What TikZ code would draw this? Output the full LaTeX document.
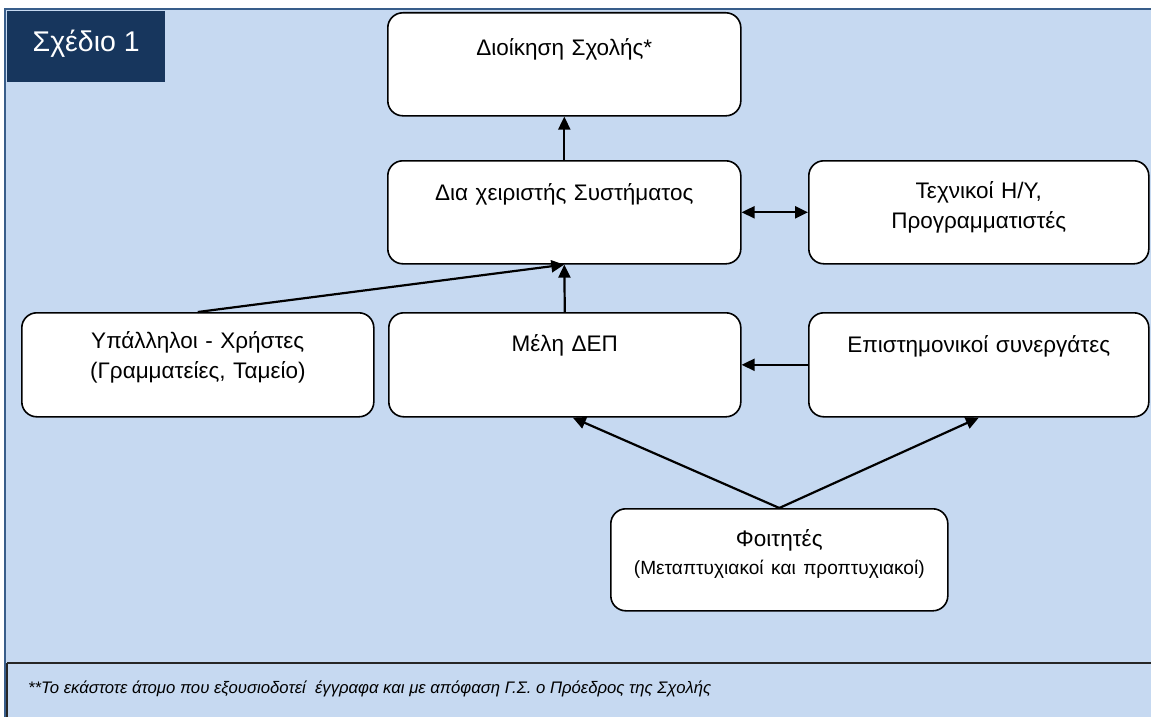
\documentclass[tikz,border=0pt]{standalone}
\usepackage{fontspec}
\setmainfont{Liberation Sans}
\usetikzlibrary{arrows.meta}
\definecolor{bgblue}{HTML}{C6D9F1}
\definecolor{navy}{HTML}{17365D}
\definecolor{framec}{HTML}{385D8A}
\tikzset{
  box/.style={draw=black, line width=1.6pt, rounded corners=15pt, fill=white,
    inner xsep=0pt, inner ysep=0pt, align=center, anchor=north west,
    font=\fontsize{22.5}{30}\selectfont},
  conn/.style={line width=2.2pt, -{Triangle[length=13pt,width=12pt]}},
  biconn/.style={line width=2.2pt, {Triangle[length=13pt,width=12pt]}-{Triangle[length=13pt,width=12pt]}}
}
\begin{document}
\begin{tikzpicture}[x=1pt,y=-1pt]
\useasboundingbox (0,0) rectangle (1151,717);
% background frame
\fill[bgblue] (5,9) rectangle (1160,730);
\draw[framec, line width=2pt] (5,9) rectangle (1160,730);
\draw[black!85, line width=2.2pt] (7,663) -- (1160,663);
\draw[black!85, line width=2.2pt] (7,663) -- (7,730);
% title
\node[fill=navy, text=white, anchor=north west, minimum width=158pt, minimum height=71pt,
  inner sep=0pt, text depth=12pt, font=\fontsize{28.5}{34}\selectfont] (title) at (7,11) {Σχέδιο 1};
% boxes
\node[box, text width=353pt, text height=43pt, text depth=60pt] (dioik) at (387,12) {Διοίκηση Σχολής*};
\node[box, text width=353pt, text height=40pt, text depth=63pt] (diax) at (387,160) {Δια χειριστής Συστήματος};
\node[box, text width=340pt, text height=38pt, text depth=65pt] (tech) at (808,160) {Τεχνικοί Η/Υ,\\Προγραμματιστές};
\node[box, text width=352pt, text height=36pt, text depth=68pt] (ypal) at (21,312) {Υπάλληλοι - Χρήστες\\(Γραμματείες, Ταμείο)};
\node[box, text width=352pt, text height=39pt, text depth=65pt] (melh) at (388,312) {Μέλη ΔΕΠ};
\node[box, text width=340pt, text height=40pt, text depth=64pt] (epist) at (808,312) {Επιστημονικοί συνεργάτες};
\node[box, text width=337pt, text height=38pt, text depth=64pt] (foit) at (610,508)
  {Φοιτητές\\[-2pt]{\fontsize{19.1}{30}\selectfont (Μεταπτυχιακοί και προπτυχιακοί)}};
% footnote
\node[anchor=base west, inner sep=0pt, font=\fontsize{16.7}{20}\selectfont\itshape] (note) at (28,693)
  {**Το εκάστοτε άτομο που εξουσιοδοτεί \ έγγραφα και με απόφαση Γ.Σ. ο Πρόεδρος της Σχολής};
% connectors
\draw[conn] (diax.north) -- (dioik.south);
\draw[biconn] (diax.east) -- (tech.west);
\draw[conn] (ypal.north) -- (diax.south);
\draw[conn] (melh.north) -- (diax.south);
\draw[conn] (epist.west) -- (melh.east);
\draw[conn] (foit.north) -- ([xshift=8pt]melh.south);
\draw[conn] (foit.north) -- (epist.south);
\end{tikzpicture}
\end{document}
